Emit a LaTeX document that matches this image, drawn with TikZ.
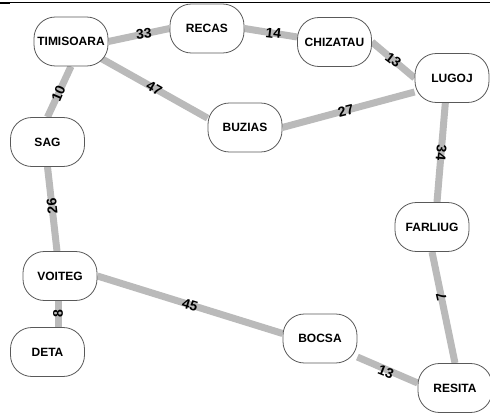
\documentclass[tikz,border=0pt]{standalone}
\usepackage{fontspec}
\setmainfont{Liberation Sans}
\usetikzlibrary{backgrounds}
\begin{document}
\begin{tikzpicture}[x=0.75pt,y=-0.75pt,
 city/.style={draw=black!65, line width=0.6pt, fill=white, rounded corners=16pt,
   minimum width=55.5pt, minimum height=36.75pt, inner sep=0pt,
   font=\bfseries\fontsize{9}{10}\selectfont},
 road/.style={draw=black!27, line width=5.25pt},
 w/.style={font=\bfseries\fontsize{10.5}{11}\selectfont, inner sep=0pt}]
\useasboundingbox (0,0) rectangle (490,413);
\draw[line width=0.75pt] (0,2.5) -- (490,2.5);
\fill (0,1.6) rectangle (10,3.6);

\node[city] (TIM)   at (71,41.5)   {TIMISOARA};
\node[city] (RECAS) at (207,28.5)  {RECAS};
\node[city] (CHIZ)  at (334.5,42)  {CHIZATAU};
\node[city] (LUGOJ) at (452,78)    {LUGOJ};
\node[city] (BUZ)   at (245,127.5) {BUZIAS};
\node[city] (SAG)   at (47.5,142)  {SAG};
\node[city] (VOIT)  at (60,276)    {VOITEG};
\node[city] (DETA)  at (47.5,352)  {DETA};
\node[city] (FARL)  at (432,227)   {FARLIUG};
\node[city] (BOCSA) at (320,338.5) {BOCSA};
\node[city] (RES)   at (455,388)   {RESITA};

\begin{scope}[on background layer]
 \draw[road] (TIM.east) -- node[w,pos=.58,rotate=6]{33} (RECAS.west);
 \draw[road] (RECAS.east) -- node[w,pos=.55,rotate=-7]{14} ([yshift=3.75pt]CHIZ.west);
 \draw[road] (CHIZ.east) -- node[w,pos=.5,rotate=-37]{13} (LUGOJ.west);
 \draw[road] (TIM.center) -- node[w,pos=.61,rotate=-30]{47} ([yshift=7pt]BUZ.west);
 \draw[road] (BUZ.east) -- node[w,pos=.48,rotate=14]{27} ([yshift=-10.5pt]LUGOJ.west);
 \draw[road] (TIM.south) -- node[w,pos=.53,rotate=67]{10} (SAG.north);
 \draw[road] ([xshift=-5pt]LUGOJ.south) -- node[w,pos=.5,rotate=-95]{34} ([xshift=3.75pt]FARL.north);
 \draw[road] (SAG.south) -- node[w,pos=.47,rotate=96]{26} ([xshift=-2.25pt]VOIT.north);
 \draw[road] ([xshift=-1.5pt]VOIT.south) -- node[w,pos=.5,rotate=90]{8} ([xshift=-1.5pt]VOIT.south |- DETA.north);
 \draw[road] (VOIT.east) -- node[w,pos=.5,rotate=-17]{45} ([yshift=3.75pt]BOCSA.west);
 \draw[road] (FARL.south) -- node[w,pos=.4,rotate=103]{7} (RES.north);
 \draw[road] ([yshift=-13.9pt]BOCSA.east) -- node[w,pos=.49,rotate=-22,yshift=-2pt]{13} ([yshift=3.75pt]RES.west);
\end{scope}
\end{tikzpicture}
\end{document}
